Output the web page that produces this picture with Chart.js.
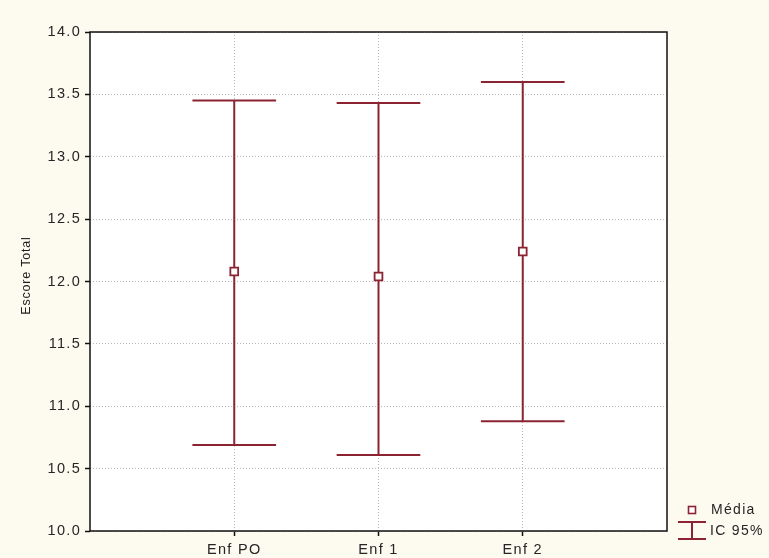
<!DOCTYPE html>
<html>
<head>
<meta charset="utf-8">
<script src="https://cdn.jsdelivr.net/npm/chart.js@4/dist/chart.umd.min.js"></script>
<style>
  html, body { margin: 0; padding: 0; background: #fdfaf0; }
  canvas { display: block; }
</style>
</head>
<body>
<canvas id="c" width="769" height="558"></canvas>
<script>
// Groups and their score summaries (mean with 95% confidence limits)
const categories = ['Enf PO', 'Enf 1', 'Enf 2'];
const means = [12.08, 12.04, 12.24];
const lower = [10.69, 10.61, 10.88];
const upper = [13.45, 13.43, 13.60];
const yTickValues = [10.0, 10.5, 11.0, 11.5, 12.0, 12.5, 13.0, 13.5, 14.0];

const yTitle = 'Escore Total';
const legendMean = 'Média';
const legendCI = 'IC 95%';

const markColor = '#8b2332';
const textColor = '#262626';
const bgColor = '#fdfaf0';
const fontFamily = 'Arial, "Liberation Sans", sans-serif';
const capHalf = 0.29; // half width of the whisker caps, in x units

const backdrop = {
  id: 'backdrop',
  beforeDraw(chart) {
    const { ctx, chartArea: a } = chart;
    ctx.save();
    ctx.fillStyle = bgColor;
    ctx.fillRect(0, 0, chart.width, chart.height);
    ctx.fillStyle = '#ffffff';
    ctx.fillRect(a.left, a.top, a.right - a.left, a.bottom - a.top);
    ctx.restore();
    ctx.letterSpacing = '1.3px';
  }
};

const errorBars = {
  id: 'errorBars',
  beforeDatasetsDraw(chart) {
    const { ctx, scales: { x, y } } = chart;
    ctx.save();
    ctx.strokeStyle = markColor;
    ctx.lineWidth = 2;
    ctx.lineCap = 'butt';
    categories.forEach((c, i) => {
      const px = x.getPixelForValue(i + 1);
      const x0 = x.getPixelForValue(i + 1 - capHalf);
      const x1 = x.getPixelForValue(i + 1 + capHalf);
      const yl = y.getPixelForValue(lower[i]);
      const yu = y.getPixelForValue(upper[i]);
      ctx.beginPath();
      ctx.moveTo(px, yu); ctx.lineTo(px, yl);
      ctx.moveTo(x0, yu); ctx.lineTo(x1, yu);
      ctx.moveTo(x0, yl); ctx.lineTo(x1, yl);
      ctx.stroke();
    });
    ctx.restore();
  }
};

const frameAndText = {
  id: 'frameAndText',
  afterDraw(chart) {
    const { ctx, chartArea: a } = chart;
    ctx.save();
    // plot frame
    ctx.strokeStyle = '#111111';
    ctx.lineWidth = 1.5;
    ctx.strokeRect(a.left, a.top, a.right - a.left, a.bottom - a.top);

    // y axis title
    ctx.fillStyle = '#1e1e1e';
    ctx.font = '12.5px ' + fontFamily;
    ctx.letterSpacing = '0.8px';
    ctx.textAlign = 'center';
    ctx.textBaseline = 'middle';
    ctx.translate(27, (a.top + a.bottom) / 2 - 6);
    ctx.rotate(-Math.PI / 2);
    ctx.fillText(yTitle, 0, 0);
    ctx.restore();

    // legend
    ctx.save();
    ctx.letterSpacing = '1.3px';
    ctx.font = '14px ' + fontFamily;
    ctx.textAlign = 'left';
    ctx.textBaseline = 'middle';
    const lx = a.right + 25;
    const ly1 = a.bottom - 21;
    const ly2 = a.bottom;
    ctx.fillStyle = '#ffffff';
    ctx.fillRect(lx - 3.5, ly1 - 3.5, 7, 7);
    ctx.strokeStyle = markColor;
    ctx.lineWidth = 1.6;
    ctx.strokeRect(lx - 3.5, ly1 - 3.5, 7, 7);
    ctx.lineWidth = 2;
    ctx.beginPath();
    ctx.moveTo(lx - 14, ly2 - 9); ctx.lineTo(lx + 14, ly2 - 9);
    ctx.moveTo(lx, ly2 - 9); ctx.lineTo(lx, ly2 + 8);
    ctx.moveTo(lx - 14, ly2 + 8); ctx.lineTo(lx + 14, ly2 + 8);
    ctx.stroke();
    ctx.fillStyle = textColor;
    ctx.fillText(legendMean, lx + 19, ly1);
    ctx.fillText(legendCI, lx + 18, ly2);
    ctx.restore();
  }
};

const gridStyle = {
  color: '#b8b8b8',
  lineWidth: 1,
  drawTicks: true,
  tickLength: 5,
  tickColor: '#111111',
  tickWidth: 1.5,
  tickBorderDash: []
};

new Chart(document.getElementById('c'), {
  type: 'scatter',
  data: {
    datasets: [{
      label: legendMean,
      data: means.map((m, i) => ({ x: i + 1, y: m })),
      pointStyle: 'rect',
      pointRadius: 5.5,
      pointHoverRadius: 5.5,
      pointBackgroundColor: '#ffffff',
      pointBorderColor: markColor,
      pointBorderWidth: 1.8,
      showLine: false
    }]
  },
  options: {
    responsive: false,
    devicePixelRatio: 1,
    animation: false,
    events: [],
    layout: { padding: { top: 32, right: 102, left: 0, bottom: 0 } },
    plugins: { legend: { display: false }, tooltip: { enabled: false } },
    scales: {
      x: {
        type: 'linear',
        min: 0,
        max: 4,
        afterBuildTicks(s) { s.ticks = categories.map((c, i) => ({ value: i + 1 })); },
        afterFit(s) { s.height = 27; },
        ticks: {
          autoSkip: false,
          maxRotation: 0,
          padding: 5,
          color: textColor,
          font: { family: fontFamily, size: 14.5 },
          callback: (v) => categories[Math.round(v) - 1] ?? ''
        },
        grid: gridStyle,
        border: { display: false, dash: [1, 2] }
      },
      y: {
        min: 10,
        max: 14,
        afterBuildTicks(s) { s.ticks = yTickValues.map(v => ({ value: v })); },
        afterFit(s) { s.width = 90; },
        ticks: {
          padding: 4,
          color: textColor,
          font: { family: fontFamily, size: 14.5 },
          callback: (v) => Number(v).toFixed(1)
        },
        grid: gridStyle,
        border: { display: false, dash: [1, 2] }
      }
    }
  },
  plugins: [backdrop, errorBars, frameAndText]
});
</script>
</body>
</html>
